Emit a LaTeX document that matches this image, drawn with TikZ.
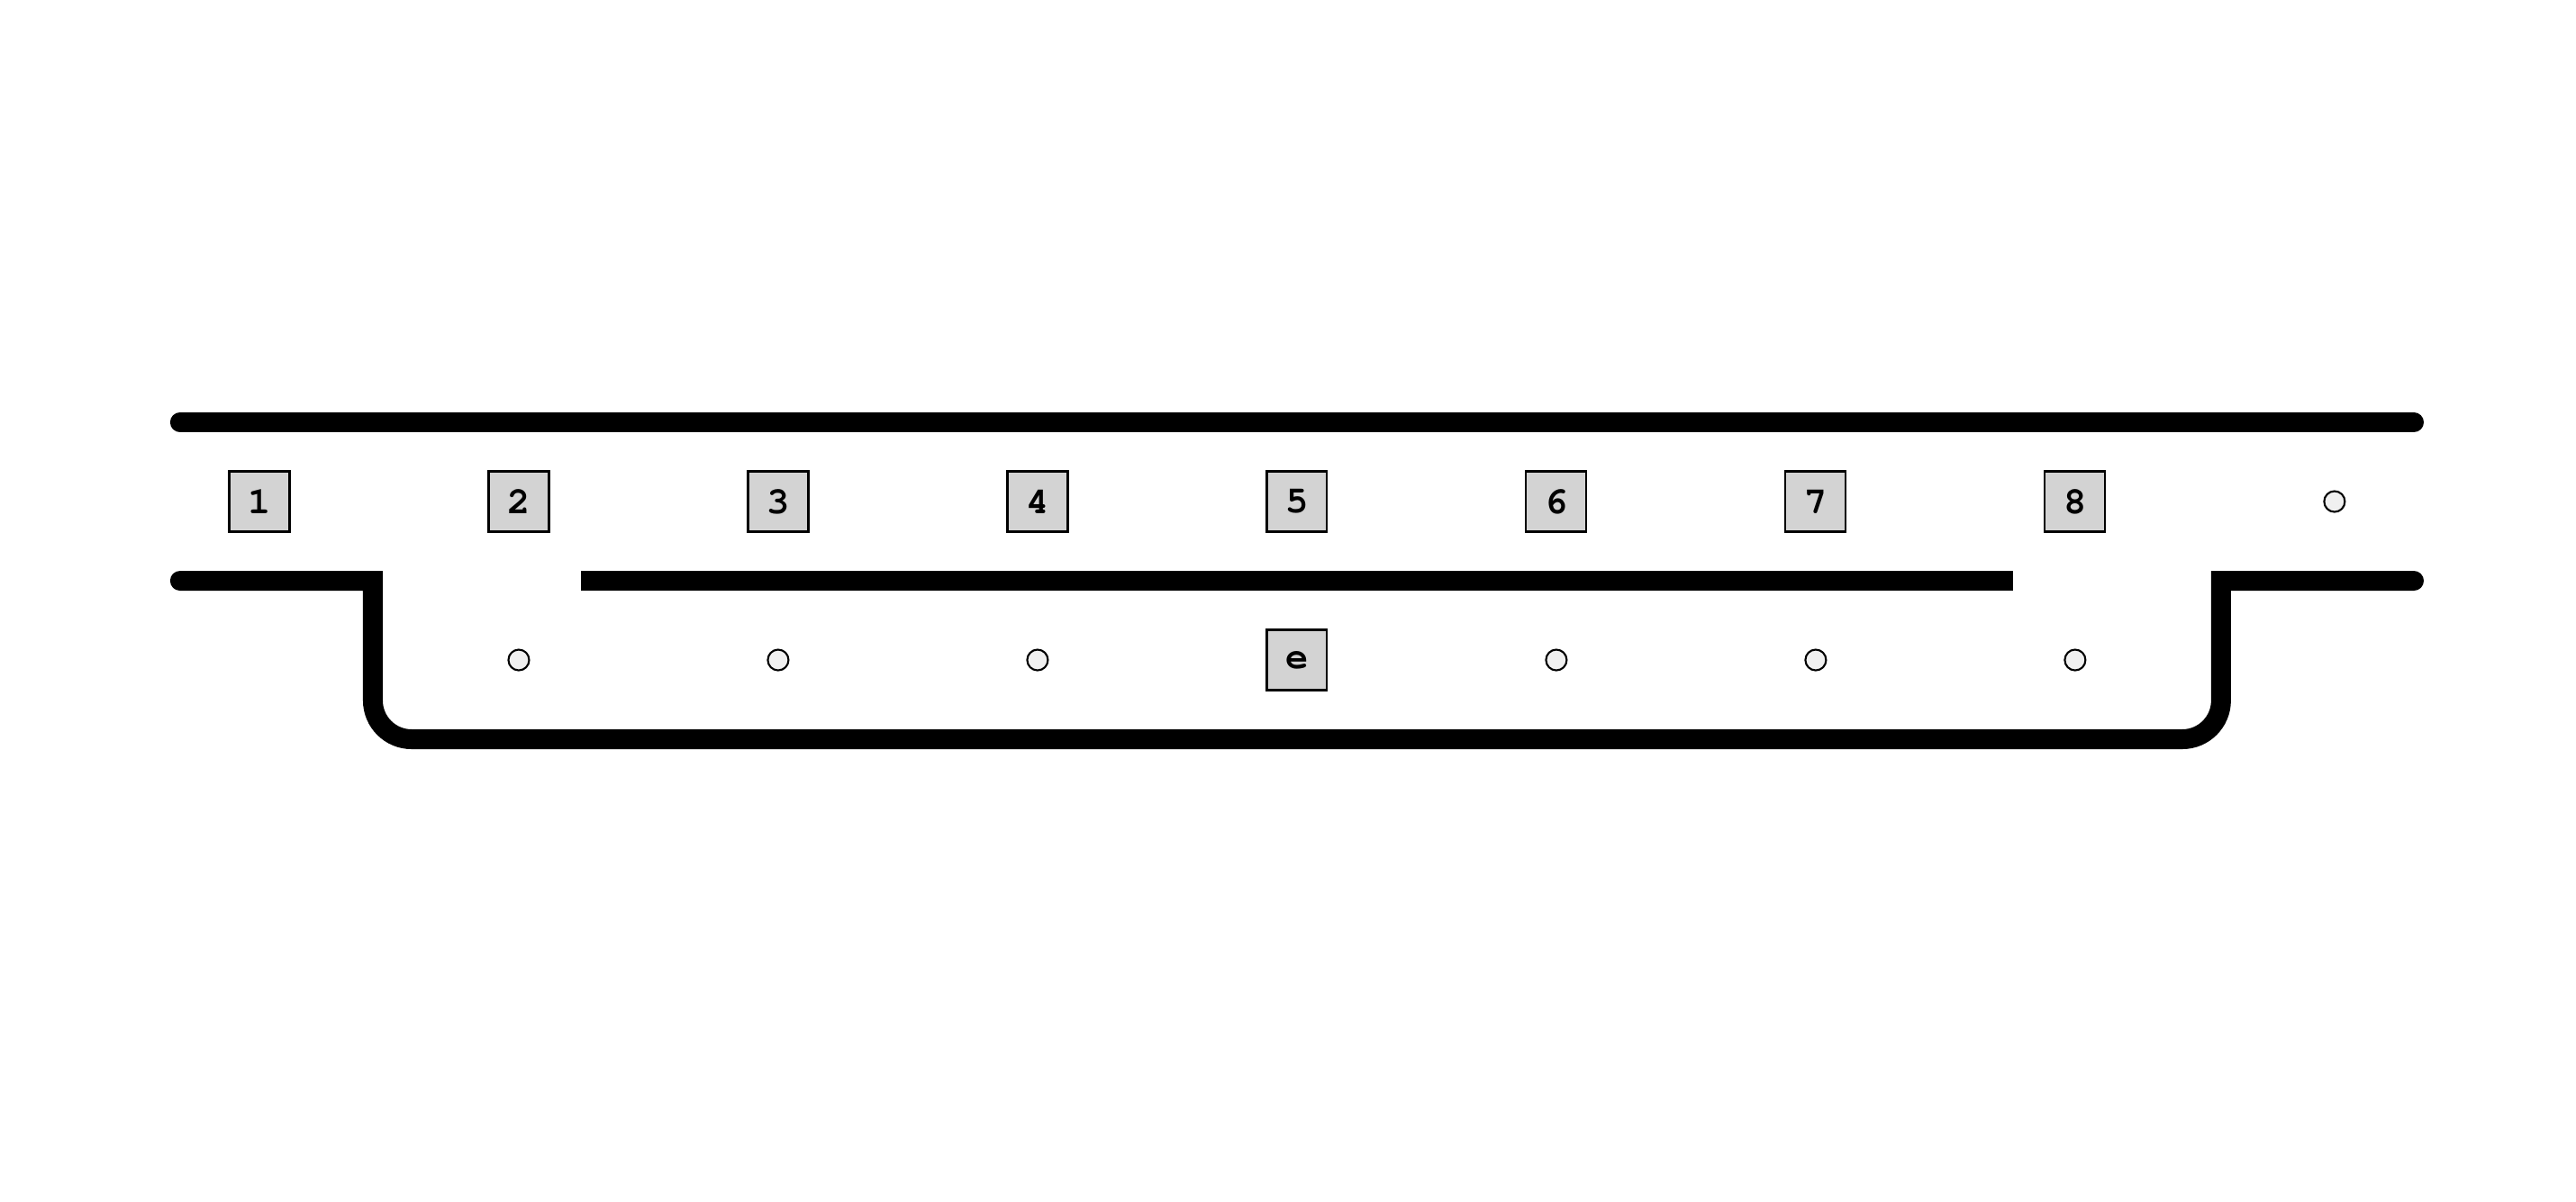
\documentclass[tikz,border=0pt]{standalone}
\usepackage{fontspec}
\setmonofont{TeX Gyre Cursor}
\usepackage{tikz}
\definecolor{cellgray}{RGB}{211,211,211}
\definecolor{spotgray}{RGB}{240,240,240}
\tikzset{
  cell/.style={draw, fill=cellgray, line width=0.6pt, minimum size=0.67cm, inner sep=0pt,
    font=\fontsize{12}{12}\selectfont\ttfamily\bfseries},
  spot/.style={draw, circle, fill=spotgray, line width=0.6pt, minimum size=0.23cm, inner sep=0pt},
  wall/.style={line width=0.22cm}
}

\begin{document}
\begin{tikzpicture}
\begin{scope}[xscale=2.88, yscale=0.88]
\useasboundingbox (0,-9.83) rectangle (9.931,5.33);

\draw[wall, line cap=round](0.694,0)to(9.306,0);
\draw[wall, line cap=round](0.694,-2)--(1.4375,-2)[rounded corners=0.43cm]--(1.4375,-4)--(8.5625,-4)[sharp corners]--(8.5625,-2)--(9.306,-2);
\draw[wall](2.24,-2)to(7.76,-2);

\node[cell](p1) at (1,-1) {1};
\node[cell](p2) at (2,-1) {2};
\node[cell](p3) at (3,-1) {3};
\node[cell](p4) at (4,-1) {4};
\node[cell](p5) at (5,-1) {5};
\node[cell](p6) at (6,-1) {6};
\node[cell](p7) at (7,-1) {7};
\node[cell](p8) at (8,-1) {8};
\node[spot](p9) at (9,-1) {};

\node[spot](q2) at (2,-3) {};
\node[spot](q3) at (3,-3) {};
\node[spot](q4) at (4,-3) {};
\node[cell](q5) at (5,-3) {e};
\node[spot](q6) at (6,-3) {};
\node[spot](q7) at (7,-3) {};
\node[spot](q8) at (8,-3) {};

\end{scope}
\end{tikzpicture}
\end{document}
